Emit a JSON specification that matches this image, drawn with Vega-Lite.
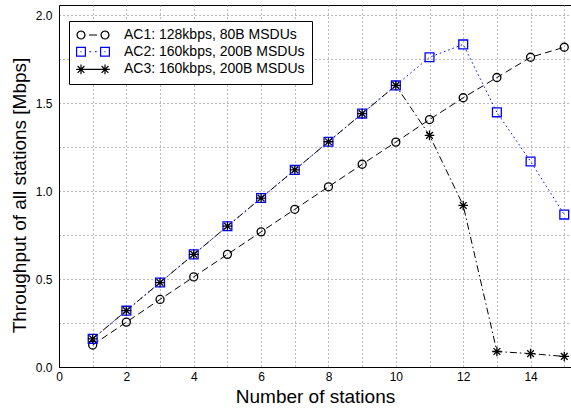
{
  "$schema": "https://vega.github.io/schema/vega-lite/v6.json",
  "width": 512,
  "height": 362,
  "autosize": {"type": "none"},
  "padding": {"left": 59, "top": 5, "right": 0, "bottom": 42},
  "background": "white",
  "config": {
    "view": {"stroke": "black", "strokeWidth": 1},
    "font": "Liberation Sans",
    "axis": {
      "domainColor": "black",
      "domainWidth": 1,
      "gridColor": "#777777",
      "gridDash": [1, 3],
      "gridWidth": 1,
      "ticks": false,
      "labelFont": "Liberation Sans",
      "labelFontSize": 12,
      "labelColor": "black",
      "titleFont": "Liberation Sans",
      "titleFontSize": 19,
      "titleFontWeight": "normal",
      "titleColor": "black"
    },
    "legend": {
      "title": null,
      "orient": "none",
      "legendX": 10,
      "legendY": 16,
      "padding": 7,
      "strokeColor": "black",
      "fillColor": "white",
      "labelFont": "Liberation Sans",
      "labelFontSize": 14,
      "labelColor": "black",
      "symbolSize": 64,
      "symbolStrokeWidth": 1.2,
      "symbolOffset": 10,
      "labelOffset": 24,
      "rowPadding": 2.7,
      "labelLimit": 400
    }
  },
  "resolve": {"scale": {"shape": "independent", "color": "independent"}},
  "data": {
    "values": [
      {"n": 1, "series": "AC1: 128kbps, 80B MSDUs", "v": 0.125},
      {"n": 2, "series": "AC1: 128kbps, 80B MSDUs", "v": 0.255},
      {"n": 3, "series": "AC1: 128kbps, 80B MSDUs", "v": 0.384},
      {"n": 4, "series": "AC1: 128kbps, 80B MSDUs", "v": 0.512},
      {"n": 5, "series": "AC1: 128kbps, 80B MSDUs", "v": 0.64},
      {"n": 6, "series": "AC1: 128kbps, 80B MSDUs", "v": 0.768},
      {"n": 7, "series": "AC1: 128kbps, 80B MSDUs", "v": 0.896},
      {"n": 8, "series": "AC1: 128kbps, 80B MSDUs", "v": 1.024},
      {"n": 9, "series": "AC1: 128kbps, 80B MSDUs", "v": 1.152},
      {"n": 10, "series": "AC1: 128kbps, 80B MSDUs", "v": 1.278},
      {"n": 11, "series": "AC1: 128kbps, 80B MSDUs", "v": 1.406},
      {"n": 12, "series": "AC1: 128kbps, 80B MSDUs", "v": 1.53},
      {"n": 13, "series": "AC1: 128kbps, 80B MSDUs", "v": 1.645},
      {"n": 14, "series": "AC1: 128kbps, 80B MSDUs", "v": 1.76},
      {"n": 15, "series": "AC1: 128kbps, 80B MSDUs", "v": 1.817},
      {"n": 1, "series": "AC2: 160kbps, 200B MSDUs", "v": 0.16},
      {"n": 2, "series": "AC2: 160kbps, 200B MSDUs", "v": 0.32},
      {"n": 3, "series": "AC2: 160kbps, 200B MSDUs", "v": 0.48},
      {"n": 4, "series": "AC2: 160kbps, 200B MSDUs", "v": 0.64},
      {"n": 5, "series": "AC2: 160kbps, 200B MSDUs", "v": 0.8},
      {"n": 6, "series": "AC2: 160kbps, 200B MSDUs", "v": 0.96},
      {"n": 7, "series": "AC2: 160kbps, 200B MSDUs", "v": 1.12},
      {"n": 8, "series": "AC2: 160kbps, 200B MSDUs", "v": 1.28},
      {"n": 9, "series": "AC2: 160kbps, 200B MSDUs", "v": 1.44},
      {"n": 10, "series": "AC2: 160kbps, 200B MSDUs", "v": 1.6},
      {"n": 11, "series": "AC2: 160kbps, 200B MSDUs", "v": 1.76},
      {"n": 12, "series": "AC2: 160kbps, 200B MSDUs", "v": 1.833},
      {"n": 13, "series": "AC2: 160kbps, 200B MSDUs", "v": 1.447},
      {"n": 14, "series": "AC2: 160kbps, 200B MSDUs", "v": 1.168},
      {"n": 15, "series": "AC2: 160kbps, 200B MSDUs", "v": 0.866},
      {"n": 1, "series": "AC3: 160kbps, 200B MSDUs", "v": 0.16},
      {"n": 2, "series": "AC3: 160kbps, 200B MSDUs", "v": 0.32},
      {"n": 3, "series": "AC3: 160kbps, 200B MSDUs", "v": 0.48},
      {"n": 4, "series": "AC3: 160kbps, 200B MSDUs", "v": 0.64},
      {"n": 5, "series": "AC3: 160kbps, 200B MSDUs", "v": 0.8},
      {"n": 6, "series": "AC3: 160kbps, 200B MSDUs", "v": 0.96},
      {"n": 7, "series": "AC3: 160kbps, 200B MSDUs", "v": 1.12},
      {"n": 8, "series": "AC3: 160kbps, 200B MSDUs", "v": 1.28},
      {"n": 9, "series": "AC3: 160kbps, 200B MSDUs", "v": 1.44},
      {"n": 10, "series": "AC3: 160kbps, 200B MSDUs", "v": 1.6},
      {"n": 11, "series": "AC3: 160kbps, 200B MSDUs", "v": 1.316},
      {"n": 12, "series": "AC3: 160kbps, 200B MSDUs", "v": 0.918},
      {"n": 13, "series": "AC3: 160kbps, 200B MSDUs", "v": 0.088},
      {"n": 14, "series": "AC3: 160kbps, 200B MSDUs", "v": 0.076},
      {"n": 15, "series": "AC3: 160kbps, 200B MSDUs", "v": 0.06}
    ]
  },
  "encoding": {
    "x": {
      "field": "n", "type": "quantitative",
      "scale": {"domain": [0, 15.2], "nice": false, "zero": false},
      "axis": {
        "title": "Number of stations",
        "values": [0,1,2,3,4,5,6,7,8,9,10,11,12,13,14,15],
        "labelExpr": "datum.value % 2 == 0 ? datum.label : ''",
        "labelPadding": 4,
        "titlePadding": 5,
        "labelFlush": false
      }
    },
    "y": {
      "field": "v", "type": "quantitative",
      "scale": {"domain": [0, 2.057], "nice": false},
      "axis": {
        "title": "Throughput of all stations [Mbps]",
        "values": [0, 0.25, 0.5, 0.75, 1, 1.25, 1.5, 1.75, 2],
        "labelExpr": "datum.value % 0.5 == 0 ? format(datum.value, '.1f') : ''",
        "labelPadding": 7,
        "titlePadding": 6,
        "titleY": 190,
        "labelFlush": false
      }
    },
    "color": {
      "field": "series", "type": "nominal", "legend": null,
      "scale": {
        "domain": ["AC1: 128kbps, 80B MSDUs", "AC2: 160kbps, 200B MSDUs", "AC3: 160kbps, 200B MSDUs"],
        "range": ["black", "#0000ff", "black"]
      }
    }
  },
  "layer": [
    {
      "mark": {"type": "line", "strokeWidth": 1},
      "encoding": {
        "strokeDash": {
          "field": "series", "type": "nominal", "legend": null,
          "scale": {
            "domain": ["AC1: 128kbps, 80B MSDUs", "AC2: 160kbps, 200B MSDUs", "AC3: 160kbps, 200B MSDUs"],
            "range": [[7, 4], [1.5, 3], [7, 3, 1.5, 3]]
          }
        }
      }
    },
    {
      "mark": {"type": "point", "filled": false, "strokeWidth": 1.3, "opacity": 1},
      "encoding": {
        "shape": {
          "field": "series", "type": "nominal", "legend": null,
          "scale": {
            "domain": ["AC1: 128kbps, 80B MSDUs", "AC2: 160kbps, 200B MSDUs", "AC3: 160kbps, 200B MSDUs"],
            "range": ["circle", "square", "M -1 0 L 1 0 M 0 -1 L 0 1 M -0.7 -0.7 L 0.7 0.7 M -0.7 0.7 L 0.7 -0.7"]
          }
        },
        "size": {
          "field": "series", "type": "nominal", "legend": null,
          "scale": {
            "domain": ["AC1: 128kbps, 80B MSDUs", "AC2: 160kbps, 200B MSDUs", "AC3: 160kbps, 200B MSDUs"],
            "range": [64, 92, 110]
          }
        }
      }
    },
    {
      "transform": [{"filter": "datum.n < 0"}],
      "mark": {"type": "point", "filled": false, "strokeWidth": 1.2, "opacity": 1},
      "encoding": {
        "color": {
          "field": "series", "type": "nominal",
          "scale": {
            "domain": ["AC1: 128kbps, 80B MSDUs", "AC2: 160kbps, 200B MSDUs", "AC3: 160kbps, 200B MSDUs"],
            "range": ["black", "#0000ff", "black"]
          },
          "legend": {}
        },
        "shape": {
          "field": "series", "type": "nominal",
          "scale": {
            "domain": ["AC1: 128kbps, 80B MSDUs", "AC2: 160kbps, 200B MSDUs", "AC3: 160kbps, 200B MSDUs"],
            "range": [
              "M -2 0 L -2.134 0.5 L -2.5 0.866 L -3 1 L -3.5 0.866 L -3.866 0.5 L -4 0 L -3.866 -0.5 L -3.5 -0.866 L -3 -1 L -2.5 -0.866 L -2.134 -0.5 Z M 4 0 L 3.866 0.5 L 3.5 0.866 L 3 1 L 2.5 0.866 L 2.134 0.5 L 2 0 L 2.134 -0.5 L 2.5 -0.866 L 3 -1 L 3.5 -0.866 L 3.866 -0.5 Z M -1 0 L 1 0",
              "M -4.1 -1.1 L -1.9 -1.1 L -1.9 1.1 L -4.1 1.1 Z M 1.9 -1.1 L 4.1 -1.1 L 4.1 1.1 L 1.9 1.1 Z M -0.9 0 L -0.55 0 M 0.55 0 L 0.9 0 M -3.1 0 L -2.9 0 M 2.9 0 L 3.1 0",
              "M -4.2 0 L -1.8 0 M -3 -1.2 L -3 1.2 M -3.85 -0.85 L -2.15 0.85 M -3.85 0.85 L -2.15 -0.85 M 1.8 0 L 4.2 0 M 3 -1.2 L 3 1.2 M 2.15 -0.85 L 3.85 0.85 M 2.15 0.85 L 3.85 -0.85 M -1.8 0 L 1.8 0"
            ]
          },
          "legend": {}
        }
      }
    }
  ]
}
